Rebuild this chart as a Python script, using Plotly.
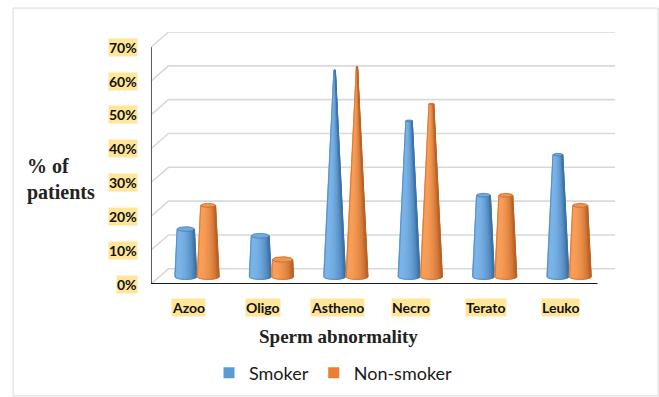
import numpy as np
import plotly.graph_objects as go

# ---- data -------------------------------------------------------------
categories = ["Azoo", "Oligo", "Astheno", "Necro", "Terato", "Leuko"]
smoker = [14, 12, 61, 46, 24, 36]
non_smoker = [21, 5, 62, 51, 24, 21]
y_ticks = [0, 10, 20, 30, 40, 50, 60, 70]
y_tick_labels = ["0%", "10%", "20%", "30%", "40%", "50%", "60%", "70%"]

# ---- geometry of the pseudo-3D box (data units) -------------------------
DX, DY = 0.235, 4.5        # depth offset of the back wall
Y_MAX = 70
CONE_MAX = 65              # height at which a full cone would close to a point
R = 0.147                  # base radius (x units)
E = 6.0                    # ellipse semi-minor (y units) per unit of radius
OFF = 0.15                 # half distance between paired cones
NSTRIP = 14                # shading strips per cone

series = [
    dict(name="Smoker", values=smoker, base="#5B9BD5",
         light=(122, 180, 233), dark=(46, 98, 152)),
    dict(name="Non-smoker", values=non_smoker, base="#ED7D31",
         light=(248, 158, 88), dark=(172, 82, 24)),
]


def blend(lo, hi, t):
    t = min(max(t, 0.0), 1.0)
    r, g, b = (round(lo[j] + (hi[j] - lo[j]) * t) for j in range(3))
    return f"rgb({r},{g},{b})"


def shade(phi):
    # light from the front-left
    return 0.15 + 0.85 * max(0.0, np.cos((phi - 0.8) * 0.75))


fig = go.Figure()

# back wall and side wall gridlines
gx, gy = [], []
for v in y_ticks:
    gx += [-0.5, -0.5 + DX, 5.5 + DX, None]
    gy += [v, v + DY, v + DY, None]
fig.add_trace(go.Scatter(x=gx, y=gy, mode="lines",
                         line=dict(color="#D9D9D9", width=1.6),
                         hoverinfo="skip", showlegend=False))

# cones
phis = np.linspace(0, np.pi, NSTRIP + 1)
for s, ser in enumerate(series):
    sign = -1 if s == 0 else 1
    strips = [([], []) for _ in range(NSTRIP)]
    tops_x, tops_y = [], []
    outline_x, outline_y = [], []
    for i, v in enumerate(ser["values"]):
        xc = i + DX / 2 + sign * OFF
        yb = DY / 2
        yt = yb + v
        rt = R * (1 - v / CONE_MAX)
        for k in range(NSTRIP):
            p0, p1 = phis[k], phis[k + 1]
            xs = [xc - R * np.cos(p0), xc - R * np.cos(p1),
                  xc - rt * np.cos(p1), xc - rt * np.cos(p0), xc - R * np.cos(p0)]
            ys = [yb - R * E * np.sin(p0), yb - R * E * np.sin(p1),
                  yt - rt * E * np.sin(p1), yt - rt * E * np.sin(p0), yb - R * E * np.sin(p0)]
            strips[k][0].extend(xs + [None])
            strips[k][1].extend(ys + [None])
        # top cap
        t = np.linspace(0, 2 * np.pi, 40)
        tops_x.extend(list(xc + rt * np.cos(t)) + [None])
        tops_y.extend(list(yt + rt * E * np.sin(t)) + [None])
        # silhouette outline
        ox = [xc - rt] + list(xc - R * np.cos(phis)) + [xc + rt]
        oy = [yt] + list(yb - R * E * np.sin(phis)) + [yt]
        outline_x.extend(ox + [None])
        outline_y.extend(oy + [None])

    for k in range(NSTRIP):
        col = blend(ser["dark"], ser["light"], shade((phis[k] + phis[k + 1]) / 2))
        fig.add_trace(go.Scatter(x=strips[k][0], y=strips[k][1], mode="lines",
                                 fill="toself", fillcolor=col,
                                 line=dict(color=col, width=1.2),
                                 hoverinfo="skip", showlegend=False))
    edge = blend(ser["dark"], ser["light"], 0.3)
    fig.add_trace(go.Scatter(x=outline_x, y=outline_y, mode="lines",
                             line=dict(color=edge, width=0.6),
                             hoverinfo="skip", showlegend=False))
    cap = blend(ser["dark"], ser["light"], 0.88)
    fig.add_trace(go.Scatter(x=tops_x, y=tops_y, mode="lines",
                             fill="toself", fillcolor=cap,
                             line=dict(color=edge, width=0.8),
                             hoverinfo="skip", showlegend=False))
    # hover points at the cone tops
    fig.add_trace(go.Scatter(
        x=[i + DX / 2 + sign * OFF for i in range(len(categories))],
        y=[DY / 2 + v for v in ser["values"]],
        mode="markers", name=ser["name"],
        marker=dict(size=8, color=ser["base"], opacity=0),
        text=categories, customdata=ser["values"],
        hovertemplate="%{text}: %{customdata}%<extra>" + ser["name"] + "</extra>",
        showlegend=False))
    # legend entry
    fig.add_trace(go.Scatter(x=[None], y=[None], mode="markers", name=ser["name"],
                             marker=dict(symbol="square", size=11, color=ser["base"]),
                             showlegend=True))

# front axis line and floor edge
fig.add_trace(go.Scatter(x=[-0.5, -0.5], y=[Y_MAX, 0], mode="lines",
                         line=dict(color="#262626", width=1.5),
                         hoverinfo="skip", showlegend=False))
fig.add_trace(go.Scatter(x=[-0.5, 5.5], y=[0, 0], mode="lines",
                         line=dict(color="#1a1a1a", width=2),
                         hoverinfo="skip", showlegend=False))

HL = "#FFE699"
annotations = []
for v, lab in zip(y_ticks, y_tick_labels):
    annotations.append(dict(x=-0.5, y=v, xref="x", yref="y", text=lab,
                            showarrow=False, xanchor="right", yanchor="middle",
                            xshift=-13, bgcolor=HL, borderpad=0,
                            font=dict(family="Lato", size=14, color="#111", weight="bold")))
for i, c in enumerate(categories):
    annotations.append(dict(x=i, y=0, xref="x", yref="y", text=c,
                            showarrow=False, xanchor="center", yanchor="top",
                            yshift=-14, bgcolor=HL, borderpad=0,
                            font=dict(family="Lato", size=14, color="#111", weight="bold")))
annotations.append(dict(x=0.405, y=-0.21, xref="paper", yref="paper",
                        text="Sperm abnormality", showarrow=False,
                        xanchor="center", yanchor="middle",
                        font=dict(family="Liberation Serif", size=19, color="#222", weight="bold")))
annotations.append(dict(x=-0.272, y=0.413, xref="paper", yref="paper",
                        text="% of<br>patients", showarrow=False, align="left",
                        xanchor="left", yanchor="middle",
                        font=dict(family="Liberation Serif", size=20, color="#222", weight="bold")))

fig.update_layout(
    width=659, height=397,
    margin=dict(l=151, r=44, t=32, b=113, autoexpand=False),
    paper_bgcolor="white", plot_bgcolor="white",
    xaxis=dict(range=[-0.5, 5.5 + DX], visible=False, fixedrange=True),
    yaxis=dict(range=[0, Y_MAX + DY], visible=False, fixedrange=True),
    showlegend=True,
    legend=dict(orientation="h", x=0.125, y=-0.353, xanchor="left", yanchor="middle",
                font=dict(family="Lato", size=18, color="#1a1a1a"),
                itemwidth=30, tracegroupgap=0),
    annotations=annotations,
    shapes=[dict(type="rect", xref="paper", yref="paper",
                 x0=-0.2974, x1=1.0927, y0=-0.444, y1=1.095,
                 line=dict(color="#D9D9D9", width=1), layer="below")],
)

fig.write_html("out.html")
